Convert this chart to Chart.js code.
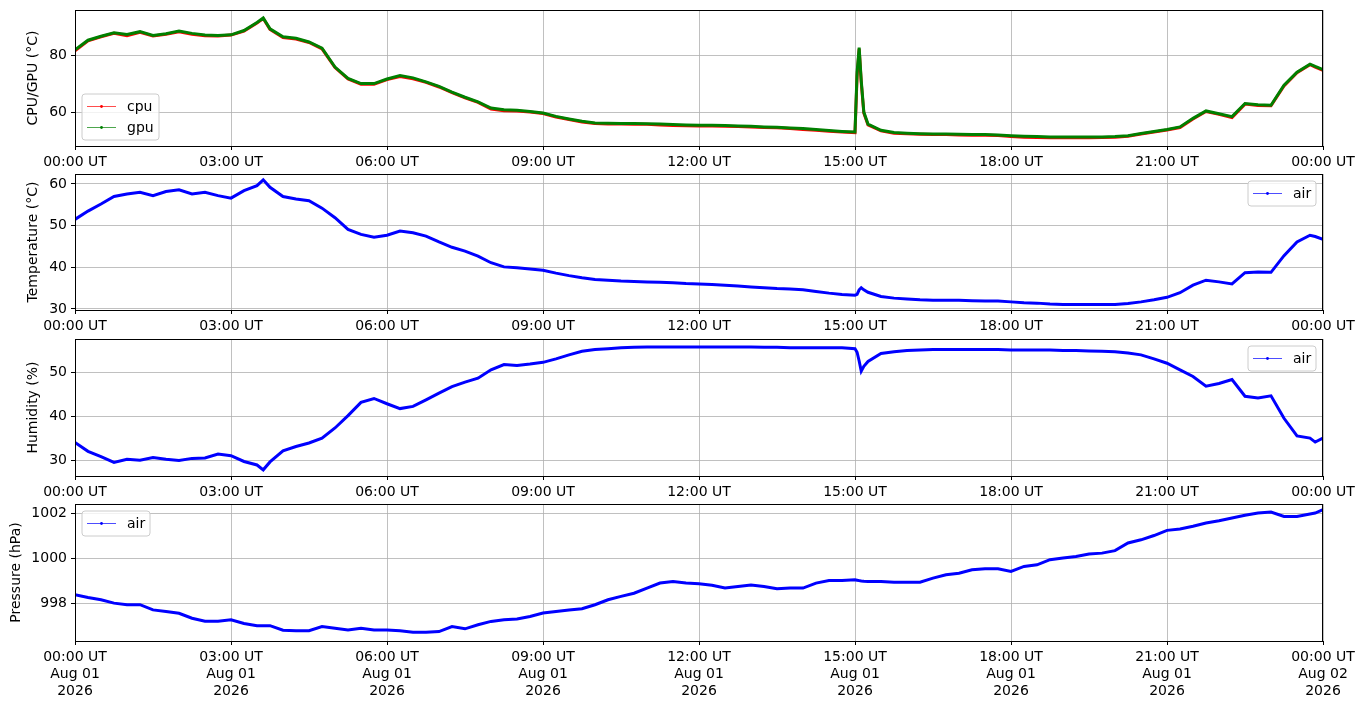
<!DOCTYPE html>
<html>
<head>
<meta charset="utf-8">
<title>Sensor log</title>
<script src="https://cdn.jsdelivr.net/npm/chart.js@4.4.1/dist/chart.umd.min.js"></script>
<style>
  body { margin: 0; background: #fff; }
  #wrap { position: relative; width: 1364px; height: 707px; overflow: hidden; }
  #wrap canvas { position: absolute; left: 0; }
</style>
</head>
<body>
<div id="wrap">
  <canvas id="cpuChart" width="1364" height="172" style="top:0px"></canvas>
  <canvas id="tempChart" width="1364" height="172" style="top:164px"></canvas>
  <canvas id="humChart" width="1364" height="173" style="top:329px"></canvas>
  <canvas id="presChart" width="1364" height="213" style="top:494px"></canvas>
</div>
<script>
// Sample times (hours since 00:00 UT)
const hours = [
  0, 0.25, 0.5, 0.75, 1, 1.25, 1.5, 1.75, 2, 2.25, 2.5, 2.75,
  3, 3.25, 3.5, 3.62, 3.75, 4, 4.25, 4.5, 4.75, 5, 5.25, 5.5, 5.75,
  6, 6.25, 6.5, 6.75, 7, 7.25, 7.5, 7.75, 8, 8.25, 8.5, 8.75,
  9, 9.25, 9.5, 9.75, 10, 10.25, 10.5, 10.75, 11, 11.25, 11.5, 11.75,
  12, 12.25, 12.5, 12.75, 13, 13.25, 13.5, 13.75, 14, 14.25, 14.5, 14.75,
  15, 15.04, 15.08, 15.12, 15.17, 15.25, 15.5, 15.75, 16, 16.25, 16.5, 16.75, 17, 17.25, 17.5, 17.75,
  18, 18.25, 18.5, 18.75, 19, 19.25, 19.5, 19.75, 20, 20.25, 20.5, 20.75,
  21, 21.25, 21.5, 21.75, 22, 22.25, 22.5, 22.75, 23, 23.25, 23.5, 23.75, 23.85, 24
];

const cpuTemp = [
  81.5, 85.0, 86.4, 87.6, 86.8, 88.0, 86.7, 87.3, 88.2, 87.3, 86.8, 86.7,
  87.0, 88.4, 91.2, 92.8, 89.0, 86.1, 85.6, 84.4, 82.2, 75.6, 71.6, 69.8, 69.8,
  71.4, 72.5, 71.7, 70.4, 68.8, 66.8, 65.0, 63.4, 61.1, 60.5, 60.4, 60.0,
  59.5, 58.3, 57.4, 56.5, 56.0, 55.8, 55.8, 55.7, 55.7, 55.5, 55.3, 55.2,
  55.1, 55.1, 55.0, 54.9, 54.8, 54.6, 54.5, 54.2, 53.9, 53.6, 53.3, 53.0,
  52.8, 72.5, 82.2, 70.4, 59.6, 55.5, 53.4, 52.6, 52.4, 52.2, 52.1, 52.1, 52.0, 51.9, 51.9, 51.8,
  51.4, 51.2, 51.1, 51.0, 51.0, 51.0, 51.0, 51.1, 51.2, 51.5, 52.3, 53.0,
  53.7, 54.6, 57.6, 60.2, 59.2, 58.1, 62.8, 62.3, 62.2, 69.2, 73.8, 76.6, 75.8, 74.6
];

const gpuTemp = [
  81.8, 85.2, 86.6, 87.8, 87.2, 88.2, 86.9, 87.5, 88.4, 87.6, 87.0, 86.9,
  87.1, 88.6, 91.4, 93.0, 89.2, 86.4, 85.9, 84.6, 82.4, 75.8, 71.8, 70.0, 70.0,
  71.6, 72.8, 72.0, 70.6, 69.0, 67.0, 65.2, 63.6, 61.4, 60.8, 60.6, 60.2,
  59.7, 58.5, 57.6, 56.8, 56.2, 56.1, 56.0, 56.0, 55.9, 55.8, 55.6, 55.5,
  55.4, 55.4, 55.3, 55.1, 55.0, 54.8, 54.7, 54.4, 54.2, 53.9, 53.5, 53.2,
  53.0, 74.0, 82.6, 71.0, 60.0, 55.8, 53.6, 52.8, 52.6, 52.4, 52.3, 52.3, 52.2, 52.1, 52.1, 52.0,
  51.7, 51.5, 51.4, 51.3, 51.3, 51.3, 51.3, 51.3, 51.4, 51.7, 52.5, 53.2,
  53.9, 54.8, 57.8, 60.4, 59.4, 58.4, 63.0, 62.6, 62.4, 69.4, 74.0, 76.8, 76.0, 74.9
];

const airTemp = [
  51.5, 53.5, 55.2, 57.0, 57.6, 58.0, 57.2, 58.2, 58.6, 57.6, 58.0, 57.2,
  56.6, 58.4, 59.6, 61.0, 59.2, 57.0, 56.4, 56.0, 54.2, 51.9, 49.1, 47.9, 47.2,
  47.7, 48.7, 48.3, 47.5, 46.1, 44.8, 43.9, 42.7, 41.1, 40.1, 39.9, 39.6,
  39.3, 38.6, 38.0, 37.5, 37.1, 36.9, 36.7, 36.6, 36.5, 36.4, 36.3, 36.1,
  36.0, 35.9, 35.7, 35.5, 35.3, 35.1, 34.9, 34.8, 34.6, 34.2, 33.8, 33.5,
  33.3, 33.5, 34.6, 35.1, 34.6, 34.0, 33.0, 32.6, 32.4, 32.2, 32.1, 32.1, 32.1, 32.0, 31.9, 31.9,
  31.7, 31.5, 31.4, 31.2, 31.1, 31.1, 31.1, 31.1, 31.1, 31.3, 31.7, 32.2,
  32.8, 33.9, 35.7, 36.9, 36.5, 36.0, 38.7, 38.9, 38.8, 42.8, 46.1, 47.7, 47.4, 46.7
];

const airHumidity = [
  34.0, 32.0, 30.8, 29.5, 30.2, 30.0, 30.6, 30.2, 29.9, 30.4, 30.5, 31.4,
  31.0, 29.7, 28.9, 27.8, 29.6, 32.1, 33.1, 33.9, 35.0, 37.3, 40.1, 43.1, 44.0,
  42.8, 41.7, 42.2, 43.7, 45.2, 46.7, 47.7, 48.6, 50.5, 51.7, 51.5, 51.8,
  52.2, 53.0, 53.9, 54.7, 55.1, 55.3, 55.5, 55.6, 55.7, 55.7, 55.7, 55.7,
  55.7, 55.7, 55.7, 55.7, 55.7, 55.6, 55.6, 55.5, 55.5, 55.5, 55.5, 55.5,
  55.3, 54.5, 52.5, 50.2, 51.3, 52.4, 54.2, 54.6, 54.9, 55.0, 55.1, 55.1, 55.1, 55.1, 55.1, 55.1,
  55.0, 55.0, 55.0, 55.0, 54.9, 54.9, 54.8, 54.7, 54.6, 54.3, 53.9, 53.0,
  52.0, 50.5, 49.0, 46.8, 47.4, 48.3, 44.5, 44.1, 44.6, 39.5, 35.5, 35.0, 34.1, 35.0
];

const airPressure = [
  998.37, 998.25, 998.15, 998.0, 997.93, 997.93, 997.7, 997.63, 997.55, 997.33, 997.2, 997.2,
  997.26, 997.1, 997.0, 997.0, 997.0, 996.8, 996.77, 996.78, 996.96, 996.89, 996.81, 996.89, 996.81,
  996.81, 996.77, 996.71, 996.71, 996.74, 996.96, 996.86, 997.04, 997.19, 997.26, 997.3, 997.41,
  997.56, 997.63, 997.7, 997.75, 997.93, 998.15, 998.3, 998.44, 998.67, 998.89, 998.96, 998.89,
  998.86, 998.79, 998.67, 998.74, 998.81, 998.74, 998.64, 998.67, 998.67, 998.89, 999.0, 999.0,
  999.04, 999.02, 999.0, 998.98, 998.97, 998.96, 998.96, 998.93, 998.93, 998.93, 999.11, 999.26, 999.33, 999.48, 999.53, 999.53,
  999.41, 999.63, 999.7, 999.93, 1000.0, 1000.07, 1000.18, 1000.22, 1000.33, 1000.67, 1000.81, 1001.0,
  1001.23, 1001.29, 1001.41, 1001.56, 1001.66, 1001.78, 1001.9, 1002.0, 1002.04, 1001.85, 1001.85, 1001.96, 1002.0, 1002.15
];

// Axis ticks and labels
const xTicks = [0, 3, 6, 9, 12, 15, 18, 21, 24];
const timeLabels = ["00:00 UT", "03:00 UT", "06:00 UT", "09:00 UT", "12:00 UT", "15:00 UT", "18:00 UT", "21:00 UT", "00:00 UT"];
const dateLabels = ["Aug 01", "Aug 01", "Aug 01", "Aug 01", "Aug 01", "Aug 01", "Aug 01", "Aug 01", "Aug 02"];
const yearLabels = ["2026", "2026", "2026", "2026", "2026", "2026", "2026", "2026", "2026"];
const cpuTicks = [60, 80];
const tempTicks = [30, 40, 50, 60];
const humTicks = [30, 40, 50];
const presTicks = [998, 1000, 1002];

const FONT = "DejaVu Sans";
Chart.defaults.font.family = FONT;
Chart.defaults.font.size = 14;
Chart.defaults.color = "#000";

function toPoints(values) {
  return hours.map((h, i) => ({ x: h, y: values[i] }));
}

// Black box around the plot area (matplotlib spines)
const framePlugin = {
  id: "frame",
  afterDraw(chart) {
    const { ctx, chartArea: a } = chart;
    ctx.save();
    ctx.strokeStyle = "#000";
    ctx.lineWidth = 1;
    ctx.strokeRect(a.left + 0.5, a.top + 0.5, a.right - a.left - 1, a.bottom - a.top);
    ctx.restore();
  }
};

// Legend drawn inside the axes
const innerLegend = {
  id: "innerLegend",
  afterDraw(chart, args, opts) {
    const { ctx, chartArea: a } = chart;
    const items = chart.data.datasets;
    ctx.save();
    ctx.font = "14px '" + FONT + "'";
    const textW = Math.max(...items.map(d => ctx.measureText(d.label).width));
    const w = Math.round(45 + textW + 5);
    const h = 25 + 21 * (items.length - 1);
    const x = opts.corner.indexOf("right") >= 0 ? a.right - 7 - w : a.left + 7;
    const y = opts.corner.indexOf("lower") >= 0 ? a.bottom - 6 - h : a.top + 7;

    // rounded box
    const r = 3;
    ctx.beginPath();
    ctx.moveTo(x + r, y);
    ctx.arcTo(x + w, y, x + w, y + h, r);
    ctx.arcTo(x + w, y + h, x, y + h, r);
    ctx.arcTo(x, y + h, x, y, r);
    ctx.arcTo(x, y, x + w, y, r);
    ctx.closePath();
    ctx.fillStyle = "rgba(255,255,255,0.8)";
    ctx.fill();
    ctx.strokeStyle = "#cccccc";
    ctx.lineWidth = 1;
    ctx.stroke();

    items.forEach((d, i) => {
      const cy = y + 12.5 + i * 21;
      ctx.strokeStyle = d.borderColor;
      ctx.lineWidth = 0.7;
      ctx.beginPath();
      ctx.moveTo(x + 5, cy);
      ctx.lineTo(x + 34, cy);
      ctx.stroke();
      ctx.fillStyle = d.borderColor;
      ctx.beginPath();
      ctx.arc(x + 19.5, cy, 1.4, 0, Math.PI * 2);
      ctx.fill();
      ctx.fillStyle = "#000";
      ctx.textBaseline = "middle";
      ctx.fillText(d.label, x + 45, cy + 1);
    });
    ctx.restore();
  }
};

function makePanel(id, datasets, cfg) {
  return new Chart(document.getElementById(id), {
    type: "line",
    data: { datasets: datasets },
    options: {
      responsive: false,
      animation: false,
      devicePixelRatio: 1,
      layout: { padding: { left: cfg.padLeft, right: 41, top: 10, bottom: 0 } },
      elements: { point: { radius: 0 }, line: { tension: 0 } },
      plugins: {
        legend: { display: false },
        tooltip: { enabled: false },
        innerLegend: { corner: cfg.legend }
      },
      scales: {
        x: {
          type: "linear",
          min: 0,
          max: 24,
          afterBuildTicks: (scale) => { scale.ticks = xTicks.map(v => ({ value: v })); },
          afterFit: (scale) => { scale.height = cfg.xHeight; },
          ticks: {
            autoSkip: false,
            maxRotation: 0,
            padding: 4,
            callback: (v, i) => cfg.multiLine ? [timeLabels[i], dateLabels[i], yearLabels[i]] : timeLabels[i]
          },
          grid: { color: "#b0b0b0", lineWidth: 0.8, tickColor: "#000", tickLength: 4, tickWidth: 1 },
          border: { display: false }
        },
        y: {
          min: cfg.yMin,
          max: cfg.yMax,
          afterBuildTicks: (scale) => { scale.ticks = cfg.yTicks.map(v => ({ value: v })); },
          afterFit: (scale) => {
            scale.width = 75 - cfg.padLeft;
            scale.paddingTop = 0;
            scale.paddingBottom = 0;
          },
          ticks: { padding: 4, callback: (v) => String(v) },
          title: { display: true, text: cfg.title, padding: { top: 4, bottom: 4 } },
          grid: { color: "#b0b0b0", lineWidth: 0.8, tickColor: "#000", tickLength: 4, tickWidth: 1 },
          border: { display: false }
        }
      }
    },
    plugins: [framePlugin, innerLegend]
  });
}

function series(label, values, color, order) {
  return {
    label: label,
    data: toPoints(values),
    borderColor: color,
    backgroundColor: color,
    borderWidth: 3,
    pointRadius: 0,
    order: order || 0
  };
}

// CPU / GPU
makePanel("cpuChart", [
  series("cpu", cpuTemp, "#ff0000", 1),
  series("gpu", gpuTemp, "#008000", 0)
], { title: "CPU/GPU (°C)", yTicks: cpuTicks, yMin: 48.1, yMax: 95.8, padLeft: 21, xHeight: 26, legend: "lower left" });

// Air temperature
makePanel("tempChart", [
  series("air", airTemp, "#0000ff")
], { title: "Temperature (°C)", yTicks: tempTicks, yMin: 29.75, yMax: 62.4, padLeft: 21, xHeight: 26, legend: "upper right" });

// Humidity
makePanel("humChart", [
  series("air", airHumidity, "#0000ff")
], { title: "Humidity (%)", yTicks: humTicks, yMin: 26.4, yMax: 57.5, padLeft: 21, xHeight: 26, legend: "upper right" });

// Pressure
makePanel("presChart", [
  series("air", airPressure, "#0000ff")
], { title: "Pressure (hPa)", yTicks: presTicks, yMin: 996.32, yMax: 1002.4, padLeft: 4, xHeight: 66, legend: "upper left", multiLine: true });
</script>
</body>
</html>
